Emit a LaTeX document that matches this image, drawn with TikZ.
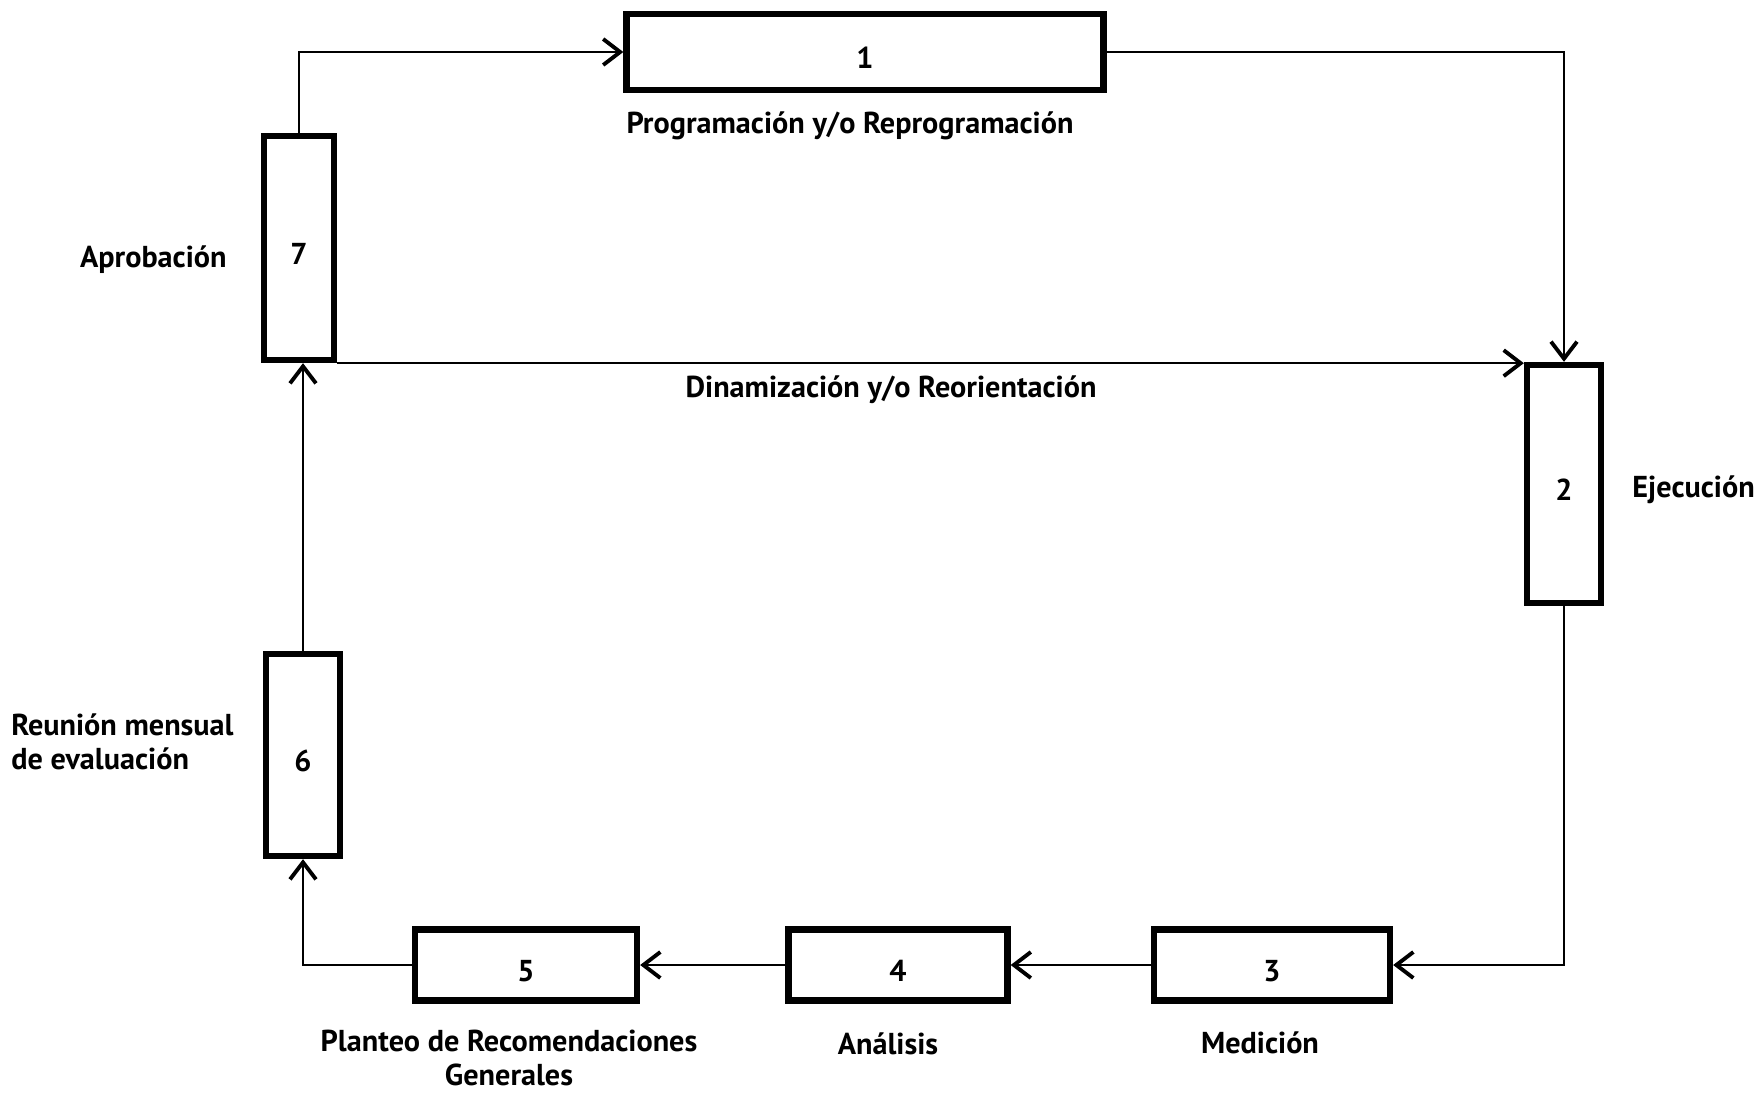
\documentclass[tikz,border=0pt]{standalone}
\usepackage{fontspec}
\setmainfont{PT Sans}
\usetikzlibrary{arrows.meta,positioning}
\tikzset{
  stage/.style={rectangle, draw=black, line width=1.8pt, fill=white, align=center, inner sep=0pt, text height=9.5pt, text depth=0pt, font=\bfseries\fontsize{8.6}{10}\selectfont},
  tag/.style={align=center, inner sep=1pt, font=\bfseries\fontsize{8.6}{9.8}\selectfont},
  flow/.style={-{Straight Barb[length=1.7mm,width=2.6mm,line width=1.1pt]}, line width=0.7pt}
}

\begin{document}
\begin{tikzpicture}[node distance=0.3cm]
\useasboundingbox (0,0) rectangle (17.61,-10.94);
% stages of the cycle
\node[stage, minimum width=4.77cm, minimum height=0.76cm] (prog) at (8.65,-0.52) {1};
\node[stage, minimum width=0.74cm, minimum height=2.38cm] (ejec) at (15.64,-4.84) {2};
\node[stage, minimum width=2.36cm, minimum height=0.71cm] (medic) at (12.72,-9.65) {3};
\node[stage, minimum width=2.19cm, minimum height=0.71cm] (anal) at (8.98,-9.65) {4};
\node[stage, minimum width=2.22cm, minimum height=0.71cm] (plant) at (5.26,-9.65) {5};
\node[stage, minimum width=0.74cm, minimum height=2.02cm] (reunion) at (3.03,-7.55) {6};
\node[stage, minimum width=0.70cm, minimum height=2.24cm] (aprob) at (2.99,-2.48) {7};
% labels
\node[tag, below=0.14cm of prog, xshift=-0.15cm] (progtxt) {Programación y/o Reprogramación};
\node[tag, right=0.24cm of ejec, yshift=-0.06cm] (ejectxt) {Ejecución};
\node[tag, below=0.24cm of medic, xshift=-0.12cm] (medictxt) {Medición};
\node[tag, below=0.25cm of anal, xshift=-0.1cm] (analtxt) {Análisis};
\node[tag, below=0.22cm of plant, xshift=-0.17cm] (planttxt) {Planteo de Recomendaciones\\Generales};
\node[tag, left=0.25cm of reunion, yshift=0.13cm, align=left] (reuniontxt) {Reunión mensual\\de evaluación};
\node[tag, left=0.3cm of aprob, yshift=-0.12cm] (aprobtxt) {Aprobación};
\node[tag] (dinamtxt) at (8.91,-3.90) {Dinamización y/o Reorientación};
% connectors
\draw[flow] (aprob.north) |- (prog.west);
\draw[flow] (prog.east) -| (ejec.north);
\draw[flow] (aprob.south east) -- (aprob.south east -| ejec.west);
\draw[flow] (ejec.south) |- (medic.east);
\draw[flow] (medic.west) -- (anal.east);
\draw[flow] (anal.west) -- (plant.east);
\draw[flow] (plant.west) -| (reunion.south);
\draw[flow] (reunion.north) -- (reunion.north |- aprob.south);
\end{tikzpicture}
\end{document}
